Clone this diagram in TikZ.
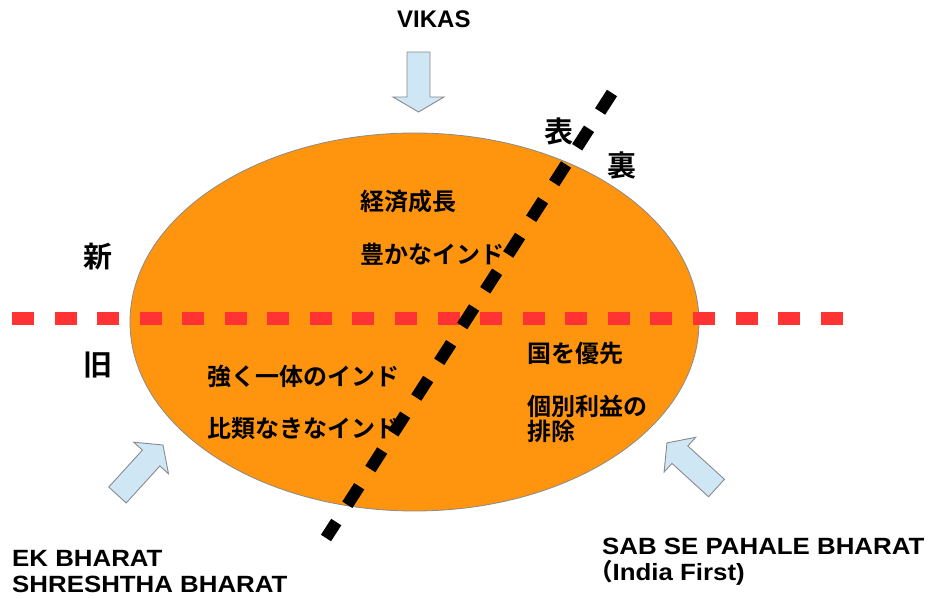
\documentclass[tikz,border=0pt]{standalone}
\usepackage{fontspec}
\setmainfont{Liberation Sans}
\newfontfamily\latwide{Liberation Sans}[FakeStretch=1.1]
\newfontfamily\jp{Noto Sans CJK JP Bold}
\definecolor{orangefill}{HTML}{FF950E}
\definecolor{redline}{HTML}{FF3333}
\definecolor{arrowfill}{HTML}{CFE7F5}
\definecolor{arrowedge}{HTML}{8A8A8A}
\definecolor{ellipseedge}{HTML}{8A8A8A}
\begin{document}
\begin{tikzpicture}[x=1pt,y=-1pt,
  lat/.style={font=\fontsize{24}{26}\selectfont\bfseries, inner sep=0pt, anchor=base west},
  latw/.style={font=\latwide\fontsize{23.5}{26}\selectfont\bfseries, inner sep=0pt, anchor=base west},
  jpt/.style={font=\jp\fontsize{24}{28}\selectfont, inner sep=0pt, anchor=west},
  jbig/.style={font=\jp\fontsize{29}{30}\selectfont, inner sep=0pt},
  blockarrow/.style={fill=arrowfill, draw=arrowedge, line width=0.9pt, line join=miter},
  reddash/.style={draw=redline, line width=13pt, dash pattern=on 22pt off 20.56pt},
  blackdash/.style={draw=black, line width=12pt, dash pattern=on 22pt off 20.5pt}
]
\useasboundingbox (0,0) rectangle (930,599);

% ellipse
\draw[fill=orangefill, draw=ellipseedge, line width=0.8pt] (414.5,322) ellipse [x radius=284.5, y radius=189];

% red dashed line
\coordinate (r1) at (12,318.5);
\coordinate (r2) at (843,318.5);
\draw[reddash] (r1) -- (r2);

% black dashed line
\coordinate (b1) at (612,93);
\coordinate (b2) at (326,538);
\draw[blackdash] (b1) -- (b2);

% block arrows
\begin{scope}[shift={(418.5,52)}, rotate=-90]
  \draw[blockarrow] (0,-11.5) -- (45,-11.5) -- (45,-25.5) -- (60,0) -- (45,25.5) -- (45,11.5) -- (0,11.5) -- cycle;
\end{scope}
\begin{scope}[shift={(117.5,495)}, rotate=47.7]
  \draw[blockarrow] (0,-11.8) -- (50,-11.8) -- (50,-23.5) -- (67.6,0) -- (50,23.5) -- (50,11.8) -- (0,11.8) -- cycle;
\end{scope}
\begin{scope}[shift={(716.5,488)}, rotate=137.7]
  \draw[blockarrow] (0,-11.8) -- (49.5,-11.8) -- (49.5,-23.5) -- (67,0) -- (49.5,23.5) -- (49.5,11.8) -- (0,11.8) -- cycle;
\end{scope}

% Latin labels
\node[lat] (vikas) at (397,28) {VIKAS};
\node[latw] (ek1) at (12,566) {EK BHARAT};
\node[latw] (ek2) at (12,592) {SHRESHTHA BHARAT};
\node[latw] (sab1) at (602,554) {SAB SE PAHALE BHARAT};
\node[latw] (sab2) at (589,580) {{\jp （}India First)};

% Japanese labels
\node[jbig] (omote) at (558.5,131) {表};
\node[jbig] (ura) at (622,165) {裏};
\node[jbig] (shin) at (97.5,257) {新};
\node[jbig] (kyu) at (97.5,365.5) {旧};

\node[jpt] (t1) at (360,201.5) {経済成長};
\node[jpt] (t2) at (360,254) {豊かなインド};
\node[jpt] (t3) at (207,376) {強く一体のインド};
\node[jpt] (t4) at (207,428.5) {比類なきなインド};
\node[jpt] (t5) at (527,353.5) {国を優先};
\node[jpt] (t6) at (527,406) {個別利益の};
\node[jpt] (t7) at (527,431) {排除};
\end{tikzpicture}
\end{document}
